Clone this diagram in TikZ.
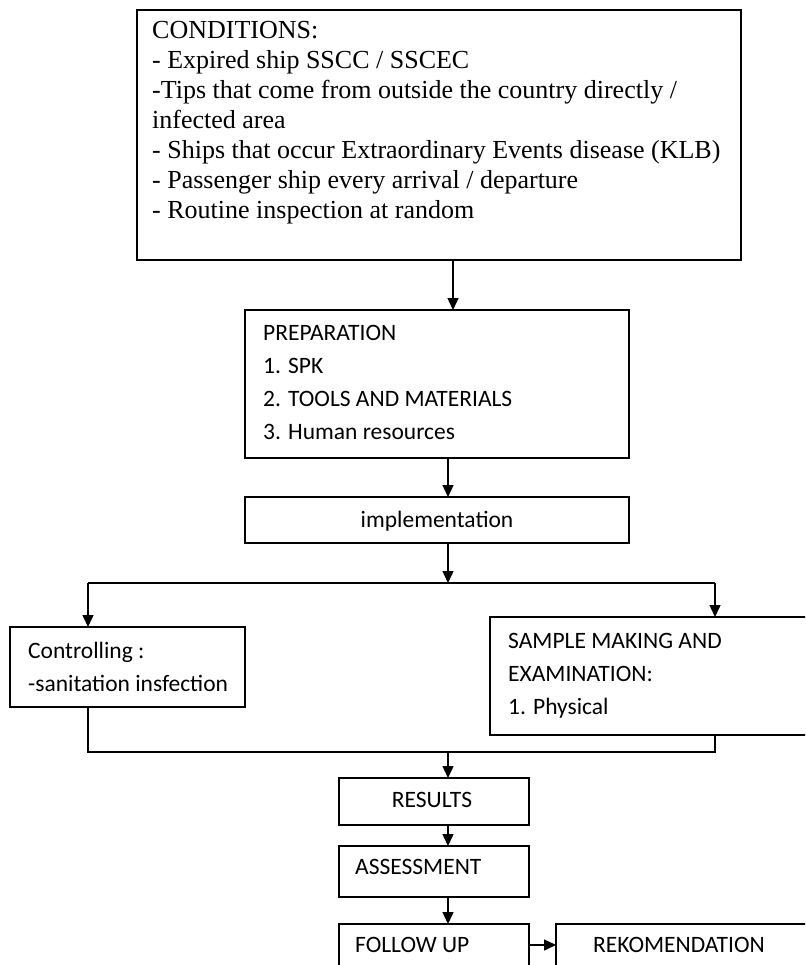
\documentclass[tikz,border=0pt]{standalone}
\usepackage{fontspec}
\setmainfont{Liberation Serif}
\newfontfamily\calfont{Carlito}
\usetikzlibrary{arrows.meta}
\begin{document}
\begin{tikzpicture}[x=1pt,y=-1pt,
  box/.style={draw,line width=1.4pt,inner sep=0pt,outer sep=0pt,anchor=north west},
  conn/.style={line width=1.4pt},
  arr/.style={conn,-{Triangle[width=11pt,length=12pt]}},
  txt/.style={inner sep=0pt,align=left,anchor=north west},
  sertxt/.style={txt,font=\fontsize{26}{30}\selectfont},
  caltxt/.style={txt,font=\calfont\fontsize{23.5}{33}\selectfont},
  calone/.style={inner sep=0pt,font=\calfont\fontsize{23.5}{28}\selectfont},
]
\useasboundingbox (0,0) rectangle (805,965);
\clip (0,0) rectangle (805,965);
% boxes
\node[box,minimum width=604pt,minimum height=250pt] (cond) at (137,10) {};
\node[box,minimum width=384pt,minimum height=148pt] (prep) at (245,310) {};
\node[box,minimum width=384pt,minimum height=46pt] (impl) at (245,497) {};
\node[box,minimum width=235pt,minimum height=80pt] (ctrl) at (10,627) {};
\node[box,minimum width=340pt,minimum height=118pt] (samp) at (490,617) {};
\node[box,minimum width=190pt,minimum height=47pt] (res) at (339,778) {};
\node[box,minimum width=190pt,minimum height=51pt] (ass) at (339,846) {};
\node[box,minimum width=190pt,minimum height=76pt] (fol) at (339,924) {};
\node[box,minimum width=274pt,minimum height=76pt] (rek) at (556,924) {};
% texts
\node[sertxt] (condtxt) at (152,21.5) {CONDITIONS:\\- Expired ship SSCC / SSCEC\\-Tips that come from outside the country directly /\\infected area\\- Ships that occur Extraordinary Events disease (KLB)\\- Passenger ship every arrival / departure\\- Routine inspection at random};
\node[caltxt] (preptxt) at (263,325.5) {PREPARATION\\1. SPK\\2. TOOLS AND MATERIALS\\3. Human resources};
\node[calone,anchor=base] (impltxt) at (437,527) {implementation};
\node[caltxt] (ctrltxt) at (28,642) {Controlling :\\-sanitation insfection};
\node[caltxt] (samptxt) at (508,633.5) {SAMPLE MAKING AND\\EXAMINATION:\\1. Physical};
\node[calone,anchor=base] (restxt) at (432,807.5) {RESULTS};
\node[calone,anchor=base west] (asstxt) at (355,874.5) {ASSESSMENT};
\node[calone,anchor=base west] (foltxt) at (355,952.5) {FOLLOW UP};
\node[calone,anchor=base west] (rektxt) at (593,952.5) {REKOMENDATION};
% connectors
\coordinate (xa) at (453,0);
\coordinate (xb) at (448,0);
\coordinate (split) at (448,583);
\coordinate (sl) at (88,583);
\coordinate (sr) at (715,583);
\coordinate (join) at (448,752);
\coordinate (jl) at (88,752);
\coordinate (jr) at (715,752);
\draw[arr] (cond.south -| xa) -- (prep.north -| xa);
\draw[arr] (prep.south -| xb) -- (impl.north -| xb);
\draw[arr] (impl.south -| xb) -- (split);
\draw[conn] (sl) -- (sr);
\draw[arr] (sl) -- (sl |- ctrl.north);
\draw[arr] (sr) -- (sr |- samp.north);
\draw[conn] (ctrl.south -| jl) -- (jl) -- (jr) -- (samp.south -| jr);
\draw[arr] (join) -- (res.north -| join);
\draw[arr] (res.south -| xb) -- (ass.north -| xb);
\draw[arr] (ass.south -| xb) -- (fol.north -| xb);
\draw[arr] (fol.east |- foltxt.base) ++(0,-7.5) coordinate (fe) -- (rek.west |- fe);
\end{tikzpicture}
\end{document}
